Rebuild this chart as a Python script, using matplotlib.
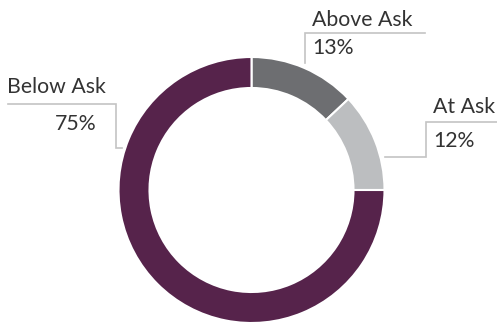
import matplotlib.pyplot as plt

labels = ["Above Ask", "At Ask", "Below Ask"]
shares = [13, 12, 75]
colors = ["#6d6e71", "#bcbec0", "#56234b"]

W, H = 497, 326


def main():
    plt.rcParams["font.family"] = ["Lato", "DejaVu Sans"]
    fig = plt.figure(figsize=(W / 100, H / 100), dpi=100)
    ax = fig.add_axes([0, 0, 1, 1])

    # ring, clockwise from 12 o'clock
    ax.pie(shares, colors=colors, startangle=90, counterclock=False,
           center=(251.5, H - 190), radius=133, frame=True,
           wedgeprops=dict(width=31, edgecolor="white", linewidth=1.5))
    ax.set_xlim(0, W)
    ax.set_ylim(0, H)
    ax.set_aspect("equal")
    ax.axis("off")

    line_kw = dict(color="#c4c4c4", linewidth=1.2, solid_joinstyle="miter")
    txt_kw = dict(color="#333333", fontsize=15.3)

    # Above Ask
    ax.plot([425, 305, 305], [H - 33, H - 33, H - 63], **line_kw)
    ax.text(312, H - 20, labels[0], va="center", ha="left", **txt_kw)
    ax.text(312, H - 48, f"{shares[0]}%", va="center", ha="left", **txt_kw)

    # At Ask
    ax.plot([497, 426, 426, 385], [H - 122, H - 122, H - 157, H - 157], **line_kw)
    ax.text(433, H - 107, labels[1], va="center", ha="left", **txt_kw)
    ax.text(433, H - 141, f"{shares[1]}%", va="center", ha="left", **txt_kw)

    # Below Ask
    ax.plot([8, 116, 116, 122], [H - 104, H - 104, H - 148, H - 148], **line_kw)
    ax.text(7, H - 87, labels[2], va="center", ha="left", **txt_kw)
    ax.text(96, H - 124, f"{shares[2]}%", va="center", ha="right", **txt_kw)

    fig.savefig("out.png", dpi=100)


if __name__ == "__main__":
    main()
